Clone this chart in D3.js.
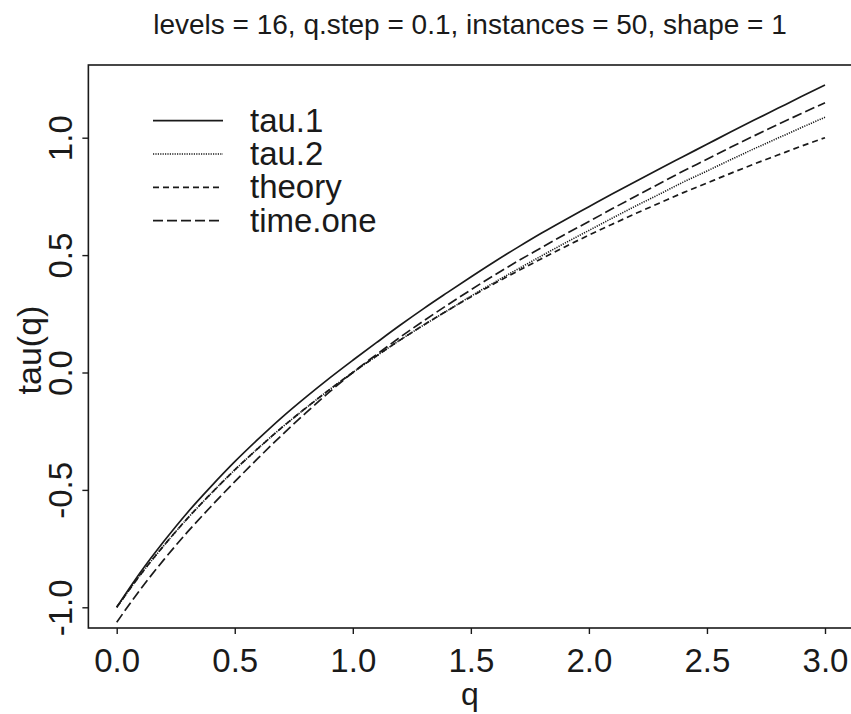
<!DOCTYPE html>
<html>
<head>
<meta charset="utf-8">
<script src="https://cdn.jsdelivr.net/npm/d3@7"></script>
<style>
  html, body { margin: 0; padding: 0; background: #fff; }
  svg { display: block; font-family: "Liberation Sans", Arial, Helvetica, sans-serif; }
</style>
</head>
<body>
<svg id="chart" width="851" height="714"></svg>
<script>
const titleText = "levels = 16, q.step = 0.1, instances = 50, shape = 1";
const xLabel = "q";
const yLabel = "tau(q)";
const q = [0.0,0.1,0.2,0.3,0.4,0.5,0.6,0.7,0.8,0.9,1.0,1.1,1.2,1.3,1.4,1.5,1.6,1.7,1.8,1.9,2.0,2.1,2.2,2.3,2.4,2.5,2.6,2.7,2.8,2.9,3.0];
const tau1 = [-1.000,-0.852,-0.719,-0.596,-0.485,-0.380,-0.283,-0.191,-0.106,-0.025,0.052,0.127,0.201,0.272,0.340,0.407,0.472,0.534,0.594,0.651,0.706,0.761,0.815,0.868,0.920,0.972,1.024,1.075,1.125,1.175,1.224];
const tau2 = [-1.000,-0.862,-0.737,-0.621,-0.515,-0.415,-0.322,-0.234,-0.152,-0.074,0.000,0.070,0.138,0.202,0.263,0.325,0.384,0.441,0.497,0.552,0.605,0.658,0.710,0.760,0.811,0.858,0.906,0.953,0.998,1.043,1.087];
const theory = [-1.000,-0.862,-0.737,-0.621,-0.515,-0.415,-0.322,-0.234,-0.152,-0.074,0.000,0.070,0.138,0.202,0.263,0.322,0.379,0.433,0.485,0.536,0.585,0.632,0.678,0.722,0.766,0.807,0.848,0.888,0.926,0.964,1.000];
const timeOne = [-1.064,-0.924,-0.797,-0.679,-0.570,-0.465,-0.364,-0.266,-0.173,-0.084,0.000,0.076,0.150,0.220,0.287,0.352,0.415,0.475,0.532,0.589,0.643,0.698,0.752,0.805,0.858,0.908,0.959,1.008,1.056,1.103,1.149];
const seriesNames = ["tau.1","tau.2","theory","time.one"];
const xTicks = [0.0,0.5,1.0,1.5,2.0,2.5,3.0];
const yTicks = [-1.0,-0.5,0.0,0.5,1.0];

const seriesData = [tau1, tau2, theory, timeOne];
const dashes = [null, "1.2,1.2", "6,4", "10,4"];

const svg = d3.select("#chart");
const x = d3.scaleLinear().domain([0, 3]).range([116.7, 825]);
const y = d3.scaleLinear().domain([-1, 1]).range([607.3, 137.7]);

const pLeft = x(-0.12), pRight = x(3.12), pTop = 65, pBottom = 628;
const ink = "#1a1a1a";
const fmt = d => d3.format(".1f")(d).replace("\u2212", "-");

// frame
svg.append("rect").attr("x", pLeft).attr("y", pTop)
  .attr("width", pRight - pLeft).attr("height", pBottom - pTop)
  .attr("fill", "none").attr("stroke", ink).attr("stroke-width", 1.6);

// x axis
const xAxis = d3.axisBottom(x).tickValues(xTicks).tickFormat(fmt).tickSize(6);
const gx = svg.append("g").attr("transform", `translate(0,${pBottom})`).call(xAxis);
gx.select(".domain").remove();
gx.selectAll("line").attr("stroke", ink).attr("stroke-width", 1.4);
gx.selectAll("text").attr("font-size", 33).attr("fill", ink)
  .attr("font-family", "Liberation Sans, Arial, sans-serif")
  .attr("dy", null).attr("y", 44);

// y axis
const yAxis = d3.axisLeft(y).tickValues(yTicks).tickFormat(fmt).tickSize(6);
const gy = svg.append("g").attr("transform", `translate(${pLeft},0)`).call(yAxis);
gy.select(".domain").remove();
gy.selectAll("line").attr("stroke", ink).attr("stroke-width", 1.4);
gy.selectAll("text")
  .attr("x", null).attr("dy", null)
  .attr("transform", `translate(${72 - pLeft},0) rotate(-90)`)
  .attr("text-anchor", "middle")
  .attr("font-size", 33).attr("fill", ink)
  .attr("font-family", "Liberation Sans, Arial, sans-serif");

// lines
const line = d3.line().x((d, i) => x(q[i])).y(d => y(d)).curve(d3.curveMonotoneX);
seriesData.forEach((s, k) => {
  svg.append("path").datum(s)
    .attr("d", line)
    .attr("fill", "none").attr("stroke", ink)
    .attr("stroke-width", k === 1 ? 1.6 : 1.7)
    .attr("stroke-dasharray", dashes[k]);
});

// legend
const legY = [120.7, 154, 187.3, 220.7];
seriesNames.forEach((name, k) => {
  svg.append("line").attr("x1", 153).attr("x2", 223).attr("y1", legY[k]).attr("y2", legY[k])
    .attr("stroke", ink).attr("stroke-width", k === 1 ? 1.6 : 1.7)
    .attr("stroke-dasharray", dashes[k]);
  svg.append("text").attr("x", 250).attr("y", legY[k] + 11)
    .attr("font-size", 33).attr("fill", ink).text(name);
});

// title
svg.append("text").attr("x", 470).attr("y", 34).attr("text-anchor", "middle")
  .attr("font-size", 28).attr("fill", ink).text(titleText);

// axis titles
svg.append("text").attr("x", 470).attr("y", 705).attr("text-anchor", "middle")
  .attr("font-size", 32).attr("fill", ink).text(xLabel);
svg.append("text").attr("transform", "translate(41,350) rotate(-90)").attr("text-anchor", "middle")
  .attr("font-size", 34).attr("fill", ink).text(yLabel);
</script>
</body>
</html>
